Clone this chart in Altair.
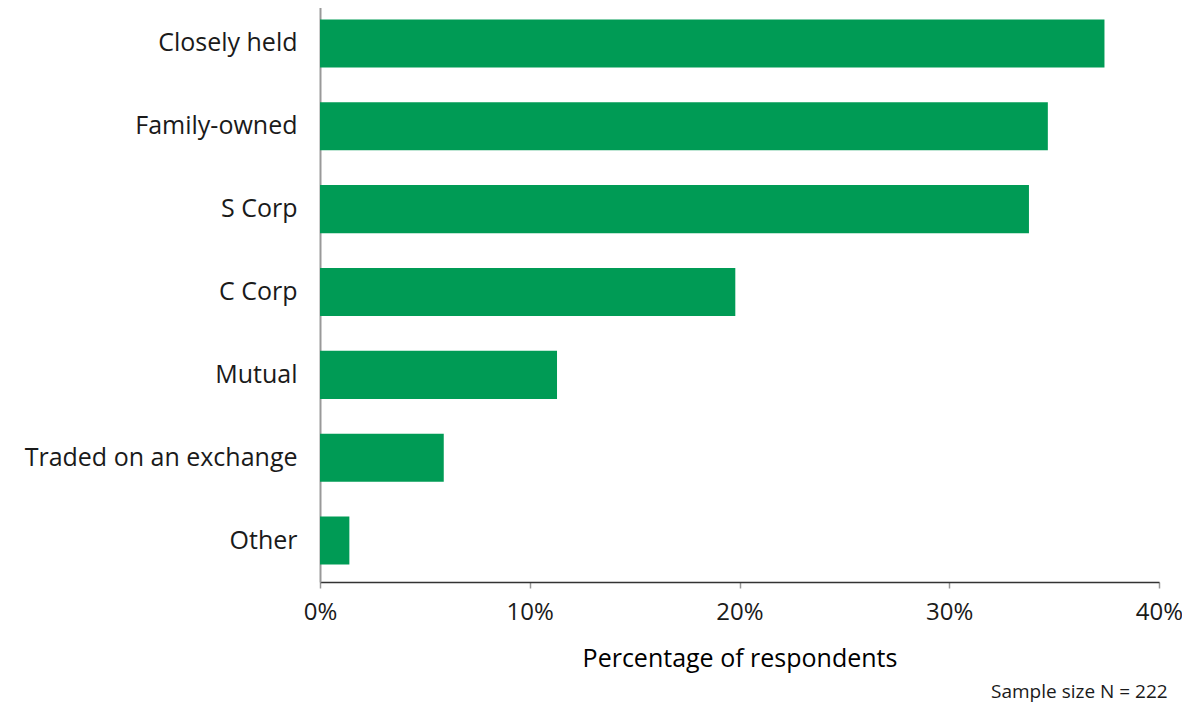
import altair as alt
import pandas as pd

categories = ["Closely held", "Family-owned", "S Corp", "C Corp", "Mutual",
              "Traded on an exchange", "Other"]
values = [37.4, 34.7, 33.8, 19.8, 11.3, 5.9, 1.4]
x_ticks = [0, 10, 20, 30, 40]

df = pd.DataFrame({"category": categories, "value": values})

FONT = "Open Sans"

chart = alt.Chart(df).mark_bar(color="#009B55").encode(
    x=alt.X("value:Q",
            scale=alt.Scale(domain=[0, 40], nice=False),
            axis=alt.Axis(values=x_ticks, labelExpr="datum.value + '%'",
                          title="Percentage of respondents",
                          titleFontSize=25, titleFont=FONT, titleFontWeight="normal",
                          titleColor="#000000", titlePadding=22,
                          labelFontSize=24, labelFont=FONT, labelColor="#1a1a1a",
                          labelPadding=12, labelFlush=False,
                          grid=False, domainColor="#333333", domainWidth=1.5,
                          tickColor="#999999", tickSize=6, tickWidth=1.5)),
    y=alt.Y("category:N", sort=categories,
            scale=alt.Scale(paddingInner=0.42, paddingOuter=0.21),
            axis=alt.Axis(title=None, ticks=False, domainColor="#999999",
                          domainWidth=2, labelFontSize=25, labelFont=FONT,
                          labelColor="#1a1a1a", labelPadding=23, labelLimit=400)),
).properties(
    width=839,
    height=580,
    title=alt.TitleParams("Sample size N = 222", orient="bottom", anchor="end",
                          fontSize=19, font=FONT, fontWeight="normal",
                          color="#1a1a1a", offset=12, dx=-15),
).configure_view(stroke=None).properties(
    autosize=alt.AutoSizeParams(type="none"),
    padding={"left": 312, "top": -6, "right": 23, "bottom": 122},
)

chart.save("out.html", embed_options={"renderer": "svg", "actions": False})
